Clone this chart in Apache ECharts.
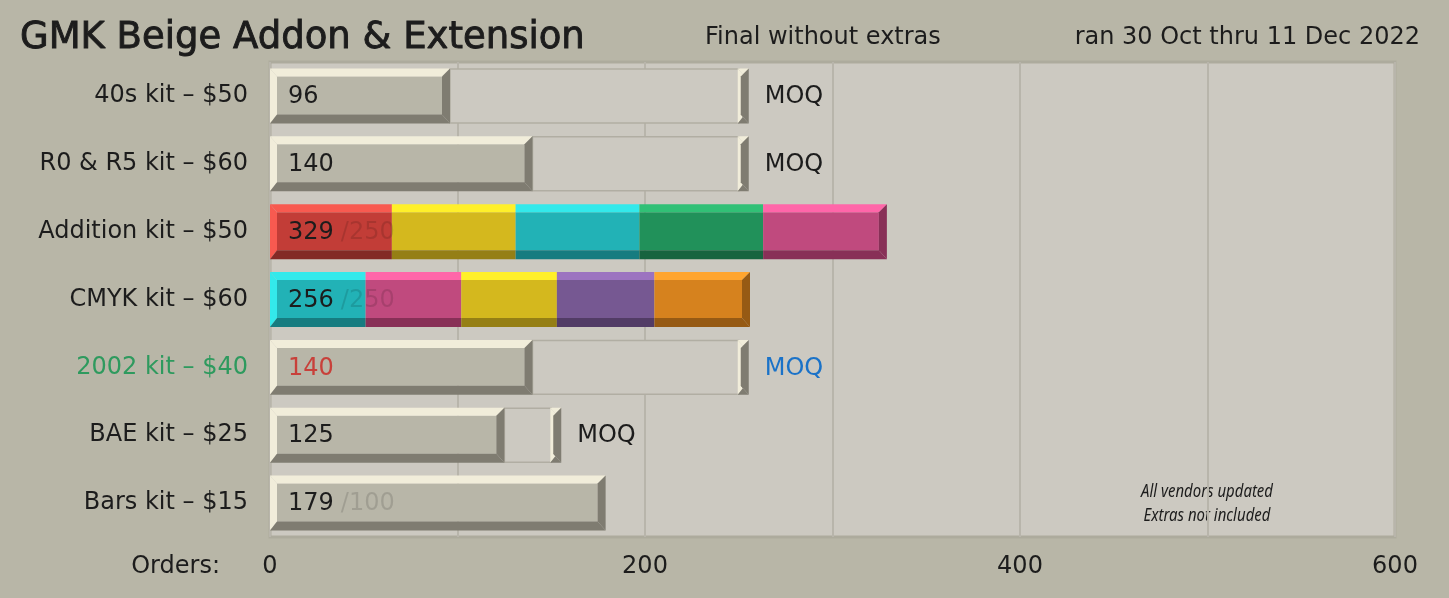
<!DOCTYPE html>
<html>
<head>
<meta charset="utf-8">
<script src="https://cdn.jsdelivr.net/npm/echarts@6/dist/echarts.min.js"></script>
<style>
html,body{margin:0;padding:0;background:#b8b6a7;}
#c{width:1449px;height:598px;}
</style>
</head>
<body>
<div id="c"></div>
<script>
// ---- data ----
const categories = ['40s kit – $50', 'R0 & R5 kit – $60', 'Addition kit – $50', 'CMYK kit – $60', '2002 kit – $40', 'BAE kit – $25', 'Bars kit – $15'];
const orders = [96, 140, 329, 256, 140, 125, 179];
const moq = [250, 250, 250, 250, 250, 150, 100];
const additionSegments = [65, 66, 66, 66, 66];
const additionColors = ['red', 'yellow', 'cyan', 'green', 'pink'];
const cmykSegments = [51, 51, 51, 52, 51];
const cmykColors = ['cyan', 'pink', 'yellow', 'purple', 'orange'];
const xTicks = [0, 200, 400, 600];

// bevel palettes: [light edge, face, dark edge]
const PALETTE = {
  red: ['#f85a50', '#c23d37', '#832a26'],
  yellow: ['#fff02a', '#d4b81e', '#957f15'],
  cyan: ['#33e9eb', '#22b2b6', '#167c80'],
  green: ['#31c076', '#21915a', '#17643f'],
  pink: ['#ff66a9', '#c04a7e', '#883057'],
  purple: ['#9c73c0', '#765892', '#523c66'],
  orange: ['#ffa52f', '#d6821e', '#965a14']
};

const segmentsByRow = {2: {vals: additionSegments, cols: additionColors}, 3: {vals: cmykSegments, cols: cmykColors}};

const FONT = 'DejaVu Sans';
const FS = 24;
const TXT = '#1c1c1c';

function poly(points, fill) {
  return {type: 'polygon', shape: {points: points}, style: {fill: fill}, silent: true};
}

function bevel(out, x0, x1, y0, y1, light, face, dark, leftB, rightB) {
  const dl = leftB ? 7 : 0, dr = rightB ? 8 : 0, dt = 8, db = 9;
  out.push(poly([[x0 + dl, y0 + dt], [x1 - dr, y0 + dt], [x1 - dr, y1 - db], [x0 + dl, y1 - db]], face));
  out.push(poly([[x0, y0], [x1, y0], [x1 - dr, y0 + dt], [x0 + dl, y0 + dt]], light));
  if (leftB) out.push(poly([[x0, y0], [x0 + dl, y0 + dt], [x0 + dl, y1 - db], [x0, y1]], light));
  out.push(poly([[x0, y1], [x0 + dl, y1 - db], [x1 - dr, y1 - db], [x1, y1]], dark));
  if (rightB) out.push(poly([[x1, y0], [x1, y1], [x1 - dr, y1 - db], [x1 - dr, y0 + dt]], dark));
}

const LIGHT = '#f1edda', FACE = '#b8b6a8', DARK = '#7f7c71';

function renderItem(params, api) {
  const i = api.value(0);
  const c0 = api.coord([0, i]);
  const band = api.size([0, 1])[1];
  const h = band * 0.81;
  const y0 = c0[1] - h / 2, y1 = c0[1] + h / 2;
  const x0 = c0[0];
  const xv = api.coord([orders[i], i])[0];
  const xm = api.coord([moq[i], i])[0];
  const children = [];
  const met = orders[i] >= moq[i];
  if (!met) {
    children.push({type: 'rect', shape: {x: xv, y: y0 + 0.5, width: xm - xv, height: h - 1},
      style: {fill: '#ccc9c1', stroke: '#b1aea3', lineWidth: 1.5}, silent: true});
    bevel(children, xm - 1, xm + 10, y0, y1, LIGHT, LIGHT, DARK, true, true);
  }
  const seg = segmentsByRow[i];
  if (seg) {
    let acc = 0;
    seg.vals.forEach(function (v, k) {
      const sx = api.coord([acc, i])[0];
      acc += v;
      const ex = api.coord([acc, i])[0];
      const p = PALETTE[seg.cols[k]];
      bevel(children, sx, ex, y0, y1, p[0], p[1], p[2], k === 0, k === seg.vals.length - 1);
    });
  } else {
    bevel(children, x0, xv, y0, y1, LIGHT, FACE, DARK, true, true);
  }
  const valColor = i === 4 ? '#c8403a' : TXT;
  const txt = met ? '{v|' + orders[i] + '}{s|/' + moq[i] + '}' : '{v|' + orders[i] + '}';
  children.push({type: 'text', x: x0 + 18, y: c0[1] + 1, silent: true,
    style: {text: txt, verticalAlign: 'middle', align: 'left',
      rich: {v: {fontFamily: FONT, fontSize: FS, fill: valColor},
             s: {fontFamily: FONT, fontSize: FS, fill: 'rgba(0,0,0,0.13)', padding: [0, 0, 0, 7]}}}});
  if (!met) {
    children.push({type: 'text', x: xm + 10 + 16, y: c0[1] + 1, silent: true,
      style: {text: 'MOQ', fontFamily: FONT, fontSize: FS, fill: i === 4 ? '#1a72c8' : TXT, verticalAlign: 'middle', align: 'left'}});
  }
  return {type: 'group', children: children};
}

const NOTE_FONT = 'Noto Sans';
const chart = echarts.init(document.getElementById('c'), null, {renderer: 'canvas'});
chart.setOption({
  backgroundColor: '#b8b6a7',
  animation: false,
  grid: {left: 270, right: 54, top: 62, bottom: 61, show: true, backgroundColor: '#ccc9c1', borderColor: '#adab9d', borderWidth: 3, containLabel: false},
  xAxis: {
    type: 'value', min: 0, max: 600, interval: 100,
    axisLine: {show: false}, axisTick: {show: false},
    splitLine: {show: true, lineStyle: {color: '#b8b5ab', width: 2}},
    axisLabel: {margin: 18, fontFamily: FONT, fontSize: FS, color: TXT,
      formatter: function (v) { return xTicks.indexOf(v) >= 0 ? String(v) : ''; }}
  },
  yAxis: {
    type: 'category', data: categories, inverse: true,
    axisLine: {show: false}, axisTick: {show: false}, splitLine: {show: false},
    axisLabel: {margin: 22, fontFamily: FONT, fontSize: FS,
      color: function (v, idx) { return v === categories[4] ? '#2e9a5e' : TXT; }}
  },
  series: [{
    type: 'custom', renderItem: renderItem, clip: false,
    encode: {y: 0},
    data: categories.map(function (c, i) { return [i]; })
  }],
  graphic: [
    {type: 'text', x: 20, y: 38, style: {text: 'GMK Beige Addon & Extension', fontFamily: FONT, fontSize: 37, fill: TXT, stroke: TXT, lineWidth: 0.9, verticalAlign: 'middle'}},
    {type: 'text', x: 705, y: 38, style: {text: 'Final without extras', fontFamily: FONT, fontSize: FS, fill: TXT, verticalAlign: 'middle'}},
    {type: 'text', x: 1420, y: 38, style: {text: 'ran 30 Oct thru 11 Dec 2022', fontFamily: FONT, fontSize: FS, fill: TXT, align: 'right', verticalAlign: 'middle'}},
    {type: 'text', x: 220, y: 567, style: {text: 'Orders:', fontFamily: FONT, fontSize: FS, fill: TXT, align: 'right', verticalAlign: 'middle'}},
    {type: 'text', x: 1207, y: 492, scaleX: 0.83, style: {text: 'All vendors updated', fontFamily: NOTE_FONT, fontStyle: 'italic', fontSize: 18, fill: TXT, align: 'center', verticalAlign: 'middle'}},
    {type: 'text', x: 1207, y: 516, scaleX: 0.83, style: {text: 'Extras not included', fontFamily: NOTE_FONT, fontStyle: 'italic', fontSize: 18, fill: TXT, align: 'center', verticalAlign: 'middle'}}
  ]
});
</script>
</body>
</html>
